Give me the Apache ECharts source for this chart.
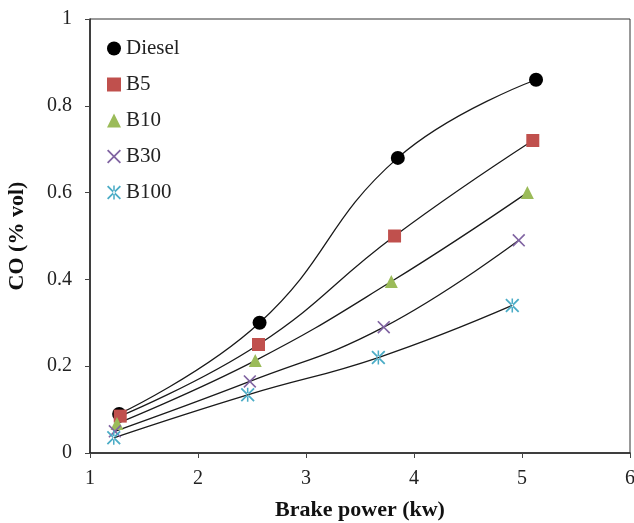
<!DOCTYPE html>
<html>
<head>
<meta charset="utf-8">
<script src="https://cdn.jsdelivr.net/npm/echarts@6/dist/echarts.min.js"></script>
<style>html,body{margin:0;padding:0;background:#fff}#c{width:634px;height:523px}</style>
</head>
<body>
<div id="c"></div>
<script>
var seriesNames = ['Diesel', 'B5', 'B10', 'B30', 'B100'];
var dieselX = [1.27, 2.57, 3.85, 5.13];
var dieselY = [0.09, 0.30, 0.68, 0.86];
var b5X = [1.28, 2.56, 3.82, 5.10];
var b5Y = [0.085, 0.25, 0.50, 0.72];
var b10X = [1.25, 2.53, 3.79, 5.05];
var b10Y = [0.068, 0.213, 0.395, 0.60];
var b30X = [1.23, 2.48, 3.72, 4.97];
var b30Y = [0.05, 0.165, 0.29, 0.49];
var b100X = [1.22, 2.46, 3.67, 4.91];
var b100Y = [0.035, 0.134, 0.22, 0.34];
var xTicks = [1, 2, 3, 4, 5, 6];
var yTicks = [0, 0.2, 0.4, 0.6, 0.8, 1];

var xs = [dieselX, b5X, b10X, b30X, b100X];
var ys = [dieselY, b5Y, b10Y, b30Y, b100Y];
var colors = ['#000000', '#c0504d', '#9bbb59', '#8064a2', '#4bacc6'];
var crossPath = 'path://M0,0.9L0.9,0L5,4.1L9.1,0L10,0.9L5.9,5L10,9.1L9.1,10L5,5.9L0.9,10L0,9.1L4.1,5Z';
var starPath = 'path://M0,0.9L0.9,0L5,4.1L9.1,0L10,0.9L5.9,5L10,9.1L9.1,10L5,5.9L0.9,10L0,9.1L4.1,5Z M4.45,0L4.45,10L5.55,10L5.55,0Z';
var symbols = ['circle', 'rect', 'triangle', crossPath, starPath];
var sizes = [14, 13, 13, 13, 14];

function pairs(a, b) { return a.map(function (v, i) { return [v, b[i]]; }); }

var serif = 'Liberation Serif, Times New Roman, serif';
var series = seriesNames.map(function (n, k) {
  return {
    name: n,
    type: 'line',
    data: pairs(xs[k], ys[k]),
    smooth: 0.45,
    symbol: symbols[k],
    symbolSize: sizes[k],
    itemStyle: { color: colors[k] },
    lineStyle: { color: '#1a1a1a', width: 1.3 },
    z: 2
  };
});

var chart = echarts.init(document.getElementById('c'));
chart.setOption({
  animation: false,
  grid: { left: 90, right: 4, top: 19, bottom: 70, outerBoundsMode: 'none', containLabel: false, show: true, borderColor: '#333', borderWidth: 1 },
  legend: {
    orient: 'vertical',
    left: 102,
    top: 33,
    itemWidth: 14,
    itemHeight: 14,
    itemGap: 15,
    itemTextGap: 9,
    textStyle: { fontFamily: serif, fontSize: 21, color: '#222' },
    data: seriesNames.map(function (n, k) { return { name: n, icon: symbols[k] }; })
  },
  xAxis: {
    type: 'value',
    min: xTicks[0],
    max: xTicks[xTicks.length - 1],
    interval: 1,
    name: 'Brake power (kw)',
    nameLocation: 'middle',
    nameGap: 46,
    nameTextStyle: { fontFamily: serif, fontSize: 22, fontWeight: 'bold', color: '#111' },
    axisLine: { lineStyle: { color: '#222', width: 1.5 } },
    axisTick: { show: true, length: 5, lineStyle: { color: '#444' } },
    axisLabel: { fontFamily: serif, fontSize: 20, color: '#222', margin: 16 },
    splitLine: { show: false }
  },
  yAxis: {
    type: 'value',
    min: yTicks[0],
    max: yTicks[yTicks.length - 1],
    interval: 0.2,
    name: 'CO (% vol)',
    nameLocation: 'middle',
    nameGap: 62,
    nameTextStyle: { fontFamily: serif, fontSize: 22, fontWeight: 'bold', color: '#111' },
    axisLine: { show: true, lineStyle: { color: '#222', width: 1.5 } },
    axisTick: { show: true, length: 5, lineStyle: { color: '#444' } },
    axisLabel: { fontFamily: serif, fontSize: 20, color: '#222', margin: 18 },
    splitLine: { show: false }
  },
  series: series
});
</script>
</body>
</html>
